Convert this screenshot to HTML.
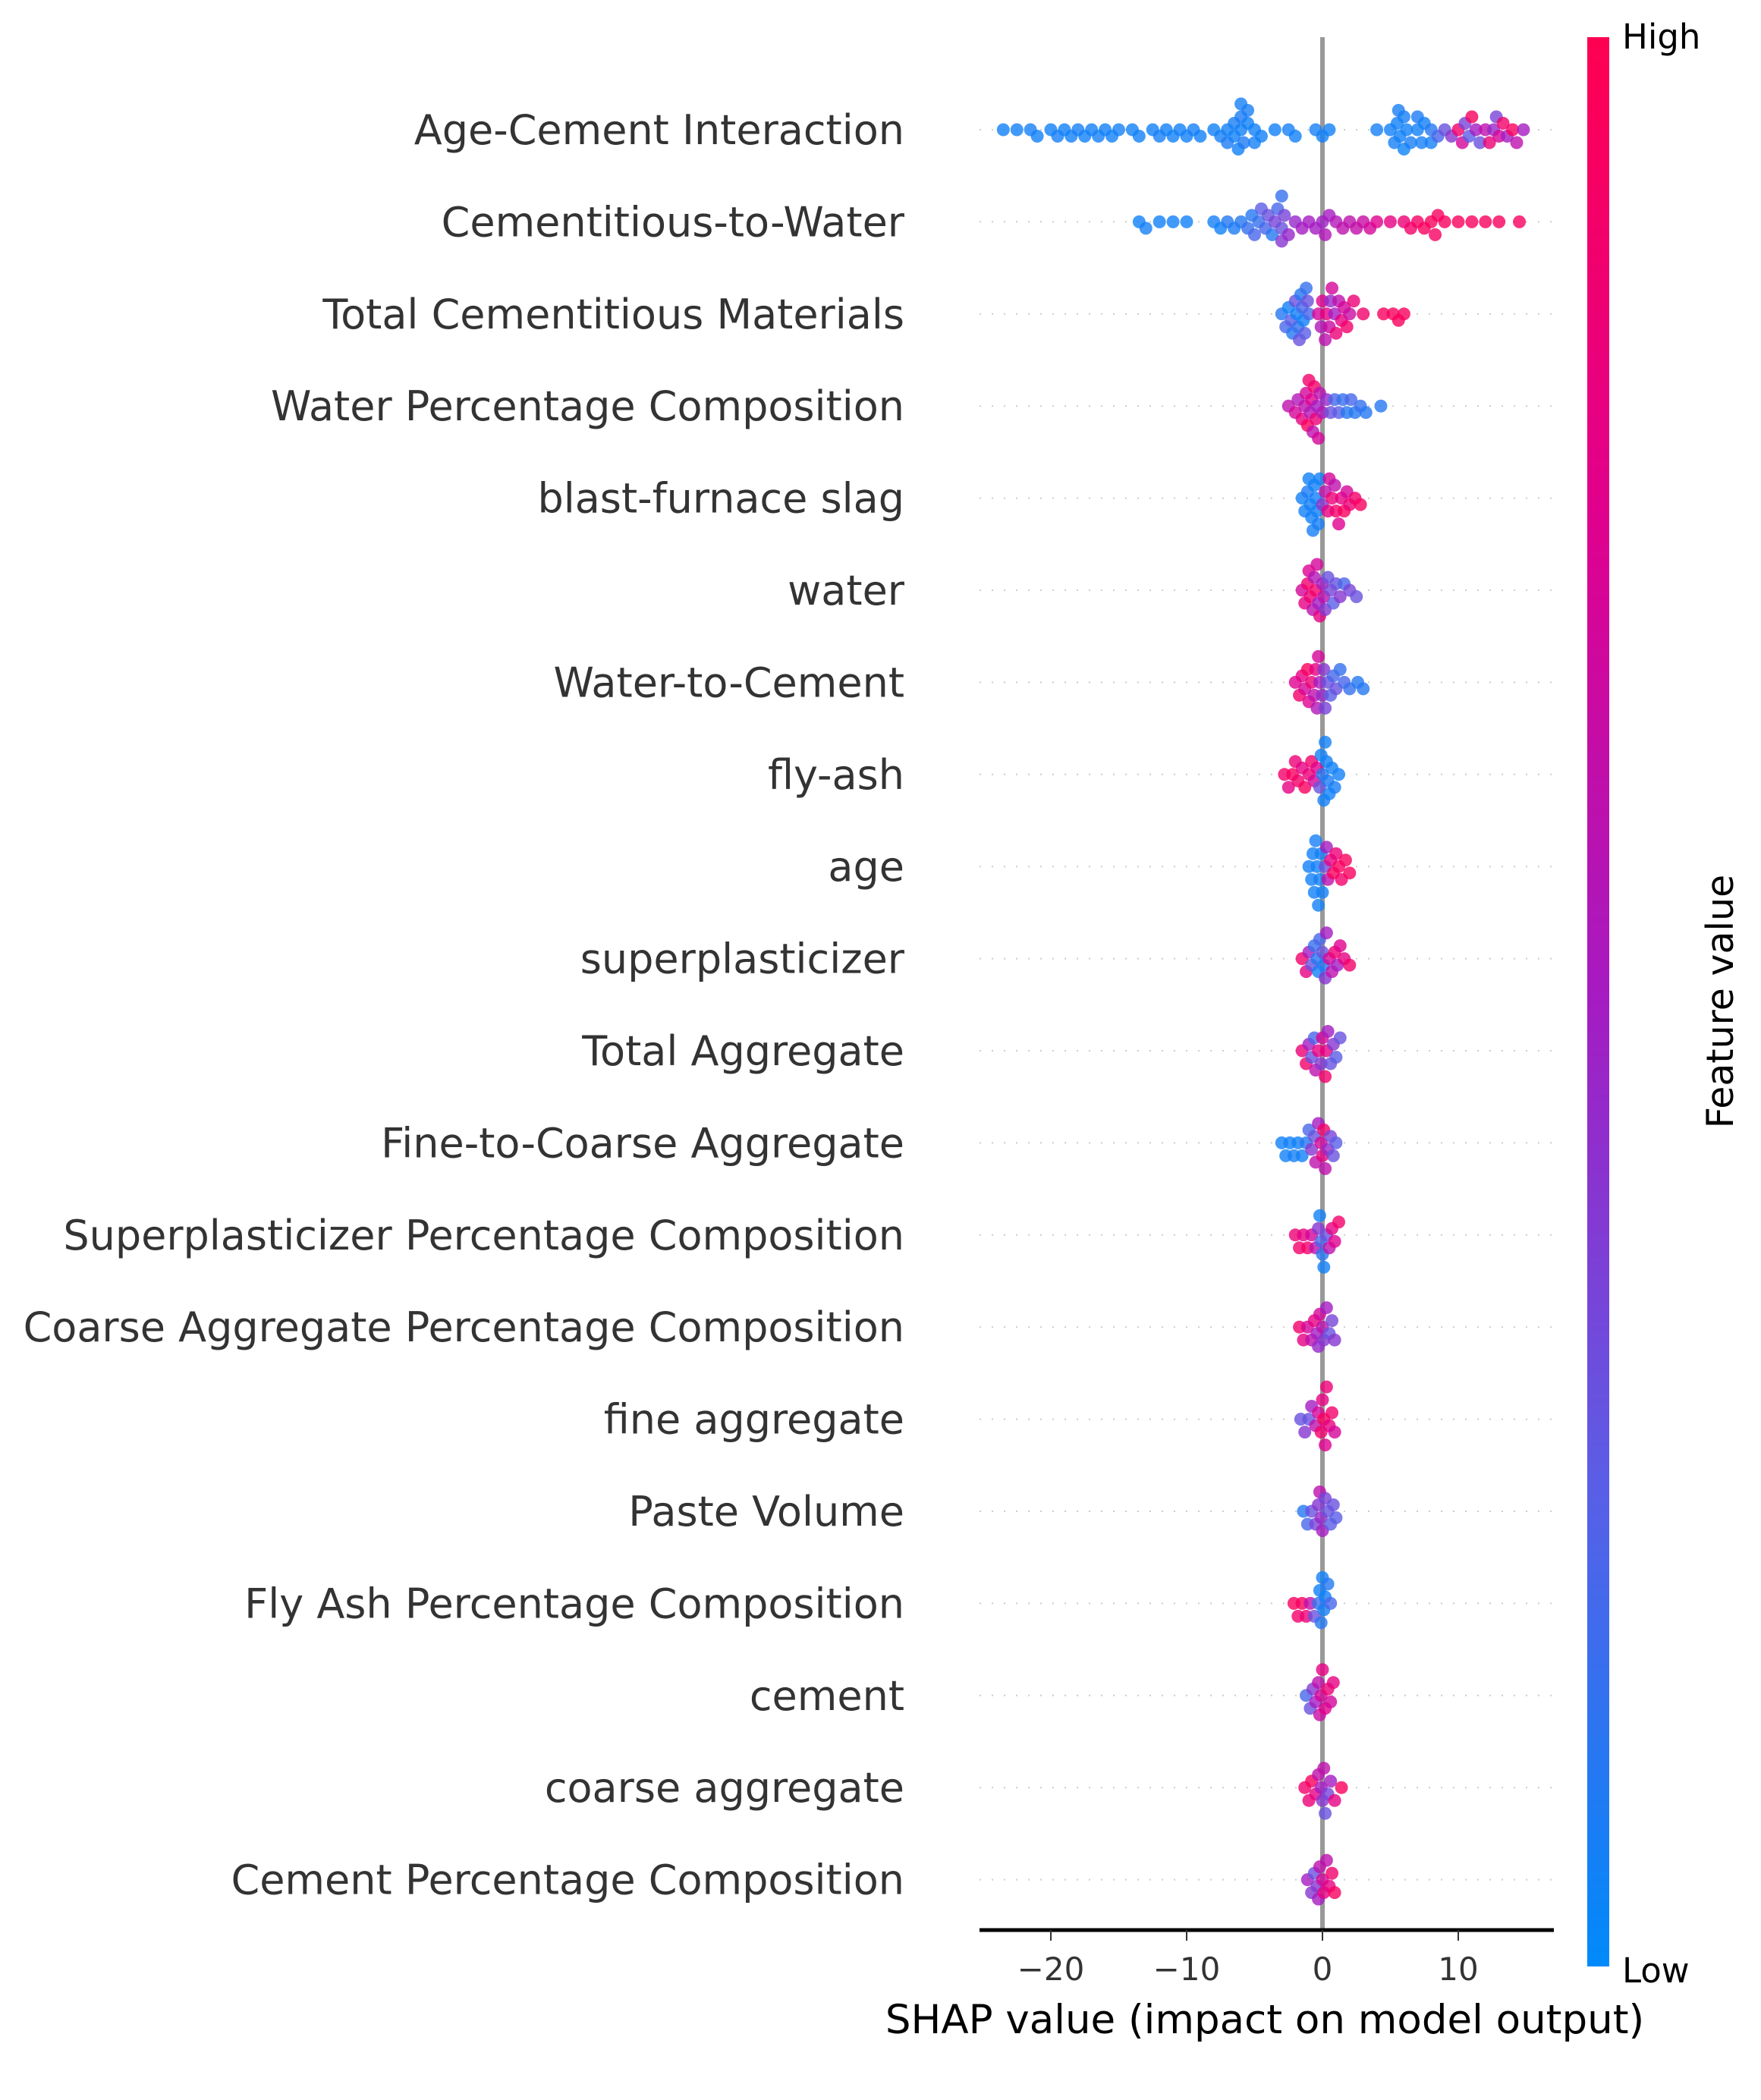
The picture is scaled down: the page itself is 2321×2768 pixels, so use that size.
<!DOCTYPE html>
<html><head><meta charset="utf-8"><style>
html,body{margin:0;padding:0;background:#fff;}
svg{display:block;font-family:"DejaVu Sans","Liberation Sans",sans-serif;}
</style></head><body>
<svg id="chart" width="2321" height="2768" viewBox="0 0 2321 2768" xmlns="http://www.w3.org/2000/svg">
<defs>
<linearGradient id="cbar" x1="0" y1="1" x2="0" y2="0">
<stop offset="0" stop-color="#008afb"/><stop offset="0.25" stop-color="#5a5ee6"/><stop offset="0.5" stop-color="#a51bc2"/><stop offset="0.75" stop-color="#e0008e"/><stop offset="1" stop-color="#ff0052"/>
</linearGradient>
</defs>
<g id="grid"></g>
<line x1="1743" y1="49" x2="1743" y2="2544" stroke="#999" stroke-width="6"/>
<g id="dots"></g>
<g id="labels"></g>
<line x1="1291" y1="2544" x2="2048" y2="2544" stroke="#000" stroke-width="5"/>
<g id="ticks"></g>
<text x="1667" y="2680" font-size="53" text-anchor="middle" fill="#000">SHAP value (impact on model output)</text>
<rect x="2092" y="49" width="29" height="2543" fill="url(#cbar)"/>
<text x="2138" y="64" font-size="45" fill="#000">High</text>
<text x="2138" y="2613" font-size="45" fill="#000">Low</text>
<text transform="translate(2284,1320) rotate(-90)" font-size="49" text-anchor="middle" fill="#000">Feature value</text>
</svg>
<script>
const features = ["Age-Cement Interaction","Cementitious-to-Water","Total Cementitious Materials","Water Percentage Composition","blast-furnace slag","water","Water-to-Cement","fly-ash","age","superplasticizer","Total Aggregate","Fine-to-Coarse Aggregate","Superplasticizer Percentage Composition","Coarse Aggregate Percentage Composition","fine aggregate","Paste Volume","Fly Ash Percentage Composition","cement","coarse aggregate","Cement Percentage Composition"];
const xTicks = [-20,-10,0,10];
const tickLabels = ["\u221220","\u221210","0","10"];
// [shap value, feature value 0..1]
const r0 = [[-23.5,.05],[-22.5,.05],[-21.5,.06],[-21,.05],[-20,.05],[-19.5,.06],[-19,.05],[-18.5,.05],[-18,.06],[-17.5,.05],[-17,.05],[-16.5,.06],[-16,.05],[-15.5,.05],[-15,.06],[-14,.05],[-13.5,.05],[-12.5,.05],[-12,.06],[-11.5,.05],[-11,.05],[-10.5,.05],[-10,.05],[-9.5,.06],[-9,.05],[-8,.05],[-7.5,.06],[-7,.05],[-7,.08],[-6.5,.05],[-6.5,.07],[-6,.05],[-6,.08],[-6,.06],[-5.5,.05],[-5.5,.07],[-5,.05],[-5,.06],[-4.5,.05],[-6.2,.05],[-5.8,.08],[-3.5,.05],[-2.5,.06],[-2,.05],[-0.5,.06],[0,.05],[0.5,.05],[4,.06],[5,.05],[5.3,.06],[5.5,.05],[5.6,.07],[5.7,.05],[6,.06],[6,.04],[6.2,.05],[6.5,.07],[7,.05],[7,.08],[7.3,.06],[7.5,.05],[8,.1],[8,.06],[8.5,.2],[9,.3],[9.5,.4],[10,.9],[10.3,.7],[10.5,.35],[11,.95],[11.3,.5],[11.6,.3],[12,.6],[12.3,.85],[12.6,.45],[13,.7],[13.3,.9],[13.6,.5],[14,.95],[14.3,.6],[14.8,.5],[10.8,.25],[12.8,.35]];
const r1 = [[-13.5,.05],[-13,.06],[-12,.05],[-11,.05],[-10,.05],[-8,.06],[-7.5,.05],[-7,.1],[-6.5,.08],[-6,.1],[-5.5,.15],[-5.2,.1],[-5,.2],[-4.7,.15],[-4.5,.25],[-4.2,.2],[-4,.3],[-3.7,.1],[-3.5,.35],[-3.3,.2],[-3,.3],[-3,.4],[-3,.15],[-2.8,.35],[-2.5,.45],[-2,.45],[-1.5,.5],[-1,.5],[-0.5,.5],[0,.48],[0.2,.55],[0.5,.5],[1,.55],[1.5,.6],[2,.6],[2.5,.62],[3,.65],[3.5,.7],[4,.75],[5,.8],[6,.85],[6.5,.9],[7,.92],[7.5,.95],[8,.95],[8.3,.93],[8.5,.95],[9,.95],[10,.95],[11,.95],[12,.95],[13,.95],[14.5,.95]];
const r2 = [[-3,.1],[-2.7,.2],[-2.5,.05],[-2.3,.25],[-2.2,.1],[-2,.3],[-1.9,.05],[-1.8,.15],[-1.7,.3],[-1.6,.1],[-1.5,.2],[-1.4,.05],[-1.3,.25],[-1.2,.15],[-1.1,.3],[-1,.2],[-0.3,.7],[0,.75],[0.2,.6],[0.3,.8],[0.5,.65],[0.7,.7],[0.9,.5],[1,.85],[1.2,.6],[1.4,.8],[1.6,.7],[1.8,.9],[2,.65],[2.3,.85],[3,.9],[4.5,.95],[5.2,.95],[5.6,.95],[6,.95],[-0.1,.55],[0.6,.45]];
const r3 = [[-2.5,.6],[-2,.7],[-1.8,.55],[-1.5,.8],[-1.3,.6],[-1.2,.7],[-1,.9],[-0.9,.55],[-0.8,.75],[-0.7,.6],[-0.5,.85],[-0.4,.5],[-0.3,.7],[-0.2,.6],[0,.55],[0.3,.45],[0.6,.3],[0.9,.2],[1.2,.25],[1.5,.15],[1.8,.1],[2.1,.2],[2.4,.1],[2.8,.15],[3.2,.1],[4.3,.1],[-1.1,.95],[-0.6,.9]];
const r4 = [[-1.5,.05],[-1.3,.05],[-1.1,.08],[-1,.05],[-0.9,.05],[-0.8,.05],[-0.7,.06],[-0.6,.05],[-0.5,.05],[-0.3,.06],[-0.2,.05],[0,.4],[0.2,.6],[0.4,.8],[0.5,.7],[0.7,.85],[0.9,.6],[1,.9],[1.2,.75],[1.4,.8],[1.6,.95],[1.8,.7],[2,.85],[2.4,.9],[2.8,.95],[-0.4,.05]];
const r5 = [[-1.5,.7],[-1.3,.8],[-1.1,.9],[-1,.75],[-0.9,.85],[-0.7,.6],[-0.5,.9],[-0.4,.7],[-0.3,.5],[-0.2,.8],[0,.5],[0.2,.4],[0.4,.3],[0.6,.35],[0.8,.25],[1,.3],[1.3,.4],[1.6,.2],[2,.35],[2.5,.3],[-0.6,.55],[0.1,.6]];
const r6 = [[-2,.75],[-1.7,.9],[-1.5,.8],[-1.3,.7],[-1.1,.95],[-1,.75],[-0.8,.85],[-0.6,.6],[-0.5,.8],[-0.3,.7],[-0.2,.5],[0,.45],[0.2,.35],[0.4,.3],[0.6,.25],[0.8,.2],[1,.3],[1.3,.15],[1.6,.2],[2,.15],[2.6,.1],[3,.1],[-0.4,.55],[0.1,.4]];
const r7 = [[-2.8,.9],[-2.5,.8],[-2.2,.95],[-2,.85],[-1.8,.9],[-1.5,.8],[-1.3,.95],[-1,.85],[-0.8,.9],[-0.6,.7],[-0.4,.75],[-0.2,.3],[0,.1],[0.1,.05],[0.2,.05],[0.3,.05],[0.5,.05],[0.7,.05],[0.9,.06],[1.2,.05],[-0.1,.05],[0.4,.08]];
const r8 = [[-1,.05],[-0.8,.05],[-0.6,.05],[-0.5,.06],[-0.4,.05],[-0.3,.05],[-0.2,.06],[-0.1,.05],[0,.05],[0.2,.3],[0.4,.6],[0.6,.8],[0.8,.95],[1,.85],[1.2,.95],[1.4,.9],[1.7,.95],[2,.95],[-0.7,.05],[0.3,.5]];
const r9 = [[-1.5,.9],[-1.2,.8],[-1,.5],[-0.8,.3],[-0.6,.15],[-0.4,.1],[-0.2,.2],[0,.3],[0.1,.1],[0.3,.5],[0.5,.7],[0.7,.6],[0.9,.85],[1.1,.5],[1.3,.75],[1.6,.8],[2,.9],[-0.3,.05],[0.2,.4]];
const r10 = [[-1.5,.85],[-1.2,.9],[-1,.5],[-0.8,.3],[-0.5,.6],[-0.3,.8],[-0.1,.4],[0,.7],[0.2,.9],[0.4,.5],[0.6,.3],[0.8,.4],[1,.25],[1.3,.3],[-0.6,.2],[0.3,.8]];
const r11 = [[-3,.05],[-2.7,.05],[-2.4,.05],[-2.1,.06],[-1.8,.05],[-1.5,.05],[-1.2,.1],[-1,.2],[-0.8,.4],[-0.5,.6],[-0.3,.5],[-0.1,.7],[0,.8],[0.2,.6],[0.4,.45],[0.6,.35],[0.8,.3],[1,.25],[-0.6,.3],[0.1,.9]];
const r12 = [[-2,.85],[-1.7,.9],[-1.4,.8],[-1.1,.9],[-0.8,.7],[-0.5,.6],[-0.3,.4],[-0.1,.2],[0,.1],[0.1,.05],[0.3,.3],[0.5,.6],[0.7,.8],[0.9,.75],[1.2,.9],[-0.2,.05]];
const r13 = [[-1.7,.9],[-1.4,.8],[-1.1,.7],[-0.8,.6],[-0.6,.8],[-0.4,.5],[-0.2,.7],[0,.6],[0.1,.4],[0.3,.5],[0.5,.3],[0.7,.35],[0.9,.4],[-0.3,.45]];
const r14 = [[-1.6,.3],[-1.3,.4],[-1,.3],[-0.8,.5],[-0.5,.6],[-0.3,.7],[-0.1,.9],[0,.8],[0.1,.95],[0.3,.85],[0.5,.8],[0.7,.9],[0.9,.7],[0.2,.75]];
const r15 = [[-1.4,.1],[-1.1,.2],[-0.8,.3],[-0.5,.35],[-0.3,.4],[-0.1,.45],[0,.5],[0.2,.35],[0.4,.3],[0.6,.25],[0.8,.3],[1,.25],[-0.2,.6]];
const r16 = [[-2.1,.95],[-1.8,.9],[-1.5,.95],[-1.2,.85],[-0.9,.6],[-0.6,.3],[-0.3,.15],[-0.1,.1],[0,.05],[0.2,.05],[0.4,.1],[0.6,.2],[-0.2,.05],[0.1,.05]];
const r17 = [[-1.2,.2],[-0.9,.3],[-0.7,.4],[-0.5,.5],[-0.3,.6],[-0.1,.7],[0,.8],[0.2,.75],[0.4,.85],[0.6,.7],[0.8,.8],[-0.2,.65]];
const r18 = [[-1.3,.9],[-1,.85],[-0.8,.95],[-0.5,.8],[-0.3,.6],[-0.1,.5],[0,.4],[0.2,.3],[0.4,.35],[0.6,.5],[0.9,.8],[1.4,.95],[0.1,.6]];
const r19 = [[-1.1,.5],[-0.8,.4],[-0.6,.3],[-0.4,.4],[-0.2,.6],[0,.7],[0.1,.8],[0.3,.6],[0.5,.8],[0.7,.9],[0.9,.95],[-0.3,.5]];
const rows = [r0,r1,r2,r3,r4,r5,r6,r7,r8,r9,r10,r11,r12,r13,r14,r15,r16,r17,r18,r19];

const NS="http://www.w3.org/2000/svg";
const X0=1743, PXU=17.9, ROW0=171, ROWH=121.4, R=8.5;
const xs=v=>X0+v*PXU;
const ys=i=>ROW0+i*ROWH;
function lerp(a,b,t){return a+(b-a)*t;}
const stops=[[0,[0,138,251]],[0.25,[90,94,230]],[0.5,[165,27,194]],[0.75,[224,0,142]],[1,[255,0,82]]];
function col(t){for(let k=1;k<stops.length;k++){if(t<=stops[k][0]){const a=stops[k-1],b=stops[k];const u=(t-a[0])/(b[0]-a[0]);return `rgb(${Math.round(lerp(a[1][0],b[1][0],u))},${Math.round(lerp(a[1][1],b[1][1],u))},${Math.round(lerp(a[1][2],b[1][2],u))})`;}}return "rgb(255,0,82)";}
const grid=document.getElementById('grid'),dots=document.getElementById('dots'),labels=document.getElementById('labels'),ticks=document.getElementById('ticks');
features.forEach((f,i)=>{
  const y=ys(i);
  const g=document.createElementNS(NS,'line');
  
  
  g.setAttribute('x1',1291);g.setAttribute('x2',2048);g.setAttribute('y1',y);g.setAttribute('y2',y);
  g.setAttribute('stroke','#ccc');g.setAttribute('stroke-width','2');g.setAttribute('stroke-dasharray','2 14');
  grid.appendChild(g);
  const t=document.createElementNS(NS,'text');
  
  
  t.setAttribute('x',1192);t.setAttribute('y',y+19);t.setAttribute('font-size','54');t.setAttribute('text-anchor','end');t.setAttribute('fill','#333');
  t.textContent=f;labels.appendChild(t);
  const pts=rows[i].slice().sort((a,b)=>a[0]-b[0]);
  const placed=[];
  pts.forEach(p=>{
    const px=xs(p[0]);let off=0;
    for(let k=0;k<40;k++){
      const cand=k===0?0:(k%2?1:-1)*Math.ceil(k/2)*R*1.0;
      if(placed.every(q=>Math.hypot(q[0]-px,q[1]-cand)>=R*1.25)){off=cand;break;}
      off=cand;
    }
    placed.push([px,off]);
    const c=document.createElementNS(NS,'circle');
    
    
    c.setAttribute('cx',px);c.setAttribute('cy',y+off);c.setAttribute('r',R);
    c.setAttribute('fill',col(p[1]));c.setAttribute('fill-opacity','0.8');
    dots.appendChild(c);
  });
});
xTicks.forEach((v,k)=>{
  const l=document.createElementNS(NS,'line');
  
  
  l.setAttribute('x1',xs(v));l.setAttribute('x2',xs(v));l.setAttribute('y1',2544);l.setAttribute('y2',2558);l.setAttribute('stroke','#333');l.setAttribute('stroke-width','2');
  ticks.appendChild(l);
  const t=document.createElementNS(NS,'text');
  
  
  t.setAttribute('x',xs(v));t.setAttribute('y',2610);t.setAttribute('font-size','42');t.setAttribute('text-anchor','middle');t.setAttribute('fill','#333');
  t.textContent=tickLabels[k];ticks.appendChild(t);
});
</script>
</body></html>
